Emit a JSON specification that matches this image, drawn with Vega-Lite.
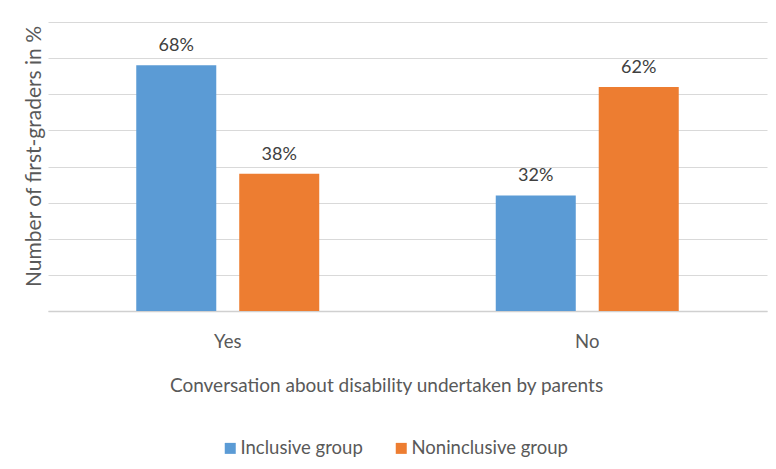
{
  "$schema": "https://vega.github.io/schema/vega-lite/v6.json",
  "width": 719,
  "height": 289,
  "autosize": {"type": "none"},
  "padding": {"left": 48, "top": 22, "right": 9, "bottom": 158},
  "background": "white",
  "data": {
    "values": [
      {"answer": "Yes", "group": "Inclusive group", "share": 0.68},
      {"answer": "Yes", "group": "Noninclusive group", "share": 0.38},
      {"answer": "No", "group": "Inclusive group", "share": 0.32},
      {"answer": "No", "group": "Noninclusive group", "share": 0.62}
    ]
  },
  "config": {
    "font": "Lato",
    "view": {"stroke": null},
    "axis": {"labelColor": "#595959", "titleColor": "#595959", "titleFontWeight": "normal", "labelFont": "Lato", "titleFont": "Lato"},
    "legend": {"labelColor": "#595959", "labelFont": "Lato"}
  },
  "encoding": {
    "x": {
      "field": "answer",
      "type": "nominal",
      "sort": ["Yes", "No"],
      "scale": {"paddingInner": 0, "paddingOuter": 0},
      "axis": {
        "title": "Conversation about disability undertaken by parents",
        "titleFontSize": 19,
        "titlePadding": 26,
        "titleX": 338,
        "titleAlign": "center",
        "labelAngle": 0,
        "labelFontSize": 18.5,
        "labelPadding": 21,
        "ticks": false,
        "domainColor": "#d0d0d0",
        "domainWidth": 1.5
      }
    },
    "xOffset": {
      "field": "group",
      "type": "nominal",
      "sort": ["Inclusive group", "Noninclusive group"],
      "scale": {"paddingInner": 0.223, "paddingOuter": 0.857}
    },
    "y": {
      "field": "share",
      "type": "quantitative",
      "scale": {"domain": [0, 0.8]},
      "axis": {
        "title": "Number of first-graders in %",
        "titleFontSize": 21,
        "titlePadding": 4,
        "titleY": 134,
        "values": [0, 0.1, 0.2, 0.3, 0.4, 0.5, 0.6, 0.7, 0.8],
        "labels": false,
        "ticks": false,
        "domain": false,
        "gridColor": "#d9d9d9",
        "gridWidth": 1
      }
    }
  },
  "layer": [
    {
      "mark": {"type": "bar"},
      "encoding": {
        "color": {
          "field": "group",
          "type": "nominal",
          "sort": ["Inclusive group", "Noninclusive group"],
          "scale": {"range": ["#5B9BD5", "#ED7D31"]},
          "legend": {
            "title": null,
            "orient": "none",
            "legendX": 173,
            "legendY": 417,
            "padding": 0,
            "direction": "horizontal",
            "symbolType": "square",
            "symbolSize": 121,
            "symbolStrokeWidth": 0,
            "labelFontSize": 18.5,
            "labelOffset": 1,
            "columnPadding": 29
          }
        }
      }
    },
    {
      "mark": {"type": "text", "baseline": "bottom", "dy": -10, "fontSize": 18, "color": "#404040"},
      "encoding": {
        "text": {"field": "share", "type": "quantitative", "format": ".0%"}
      }
    }
  ]
}
